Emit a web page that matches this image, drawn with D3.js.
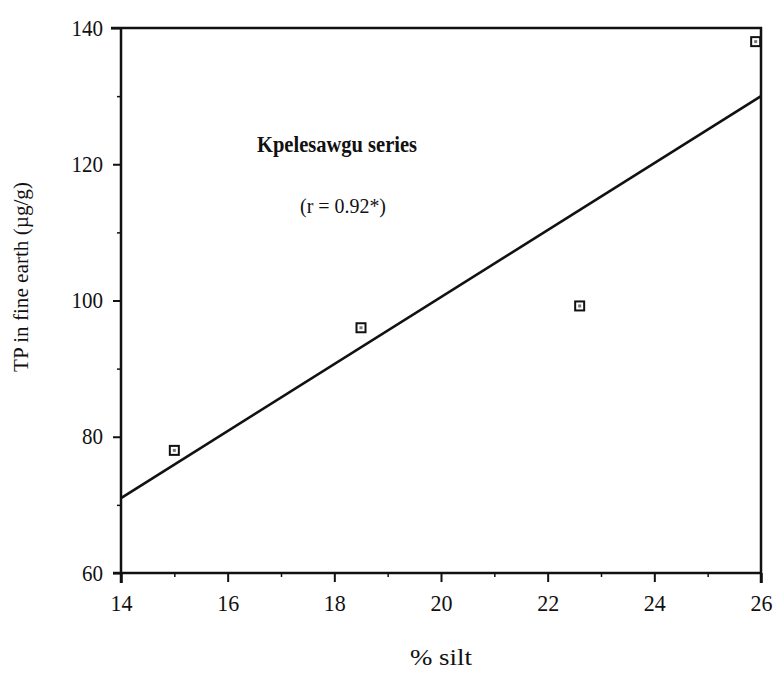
<!DOCTYPE html>
<html>
<head>
<meta charset="utf-8">
<script src="https://cdn.jsdelivr.net/npm/d3@7"></script>
<style>
  html, body { margin: 0; padding: 0; background: #fff; }
  svg { display: block; }
  text { font-family: "Liberation Serif", "Times New Roman", serif; fill: #111; }
</style>
</head>
<body>
<svg id="chart" width="779" height="675"></svg>
<script>
// ---- data ----
const siltPct = [15, 18.5, 22.6, 25.9];
const tpValues = [78, 96, 99.2, 138];
const fitX = [14, 26];
const fitY = [71, 130];
const xTicks = [14, 16, 18, 20, 22, 24, 26];
const xMinorTicks = [15, 17, 19, 21, 23, 25];
const yTicks = [60, 80, 100, 120, 140];
const yMinorTicks = [70, 90, 110, 130];
const seriesTitle = "Kpelesawgu series";
const corrLabel = "(r = 0.92*)";
const xTitle = "% silt";
const yTitle = "TP in fine earth (µg/g)";

// ---- layout ----
const svg = d3.select("#chart");
const L = 121, R = 761, T = 28, B = 573;
const x = d3.scaleLinear().domain([14, 26]).range([L, R]);
const y = d3.scaleLinear().domain([60, 140]).range([B, T]);

const ink = "#111";
const fmt = d3.format("d");

// Y axis major ticks
const yAxis = svg.append("g").attr("transform", `translate(${L},0)`)
  .call(d3.axisLeft(y).tickValues(yTicks).tickSize(8).tickSizeOuter(0).tickPadding(10).tickFormat(fmt));
yAxis.select(".domain").remove();
yAxis.selectAll("line").attr("stroke", ink).attr("stroke-width", 2);
yAxis.selectAll("text").attr("font-size", 24).attr("fill", ink)
  .attr("textLength", d => fmt(d).length * 10.5).attr("lengthAdjust", "spacingAndGlyphs").attr("dy", "0.3em");
yAxis.selectAll(".tick").filter(d => d === 140).select("line").attr("x2", -10);

// Y axis minor ticks
const yMinor = svg.append("g").attr("transform", `translate(${L},0)`)
  .call(d3.axisLeft(y).tickValues(yMinorTicks).tickSize(4).tickFormat(""));
yMinor.select(".domain").remove();
yMinor.selectAll("line").attr("stroke", ink).attr("stroke-width", 1.5);

// X axis major ticks
const xAxis = svg.append("g").attr("transform", `translate(0,${B})`)
  .call(d3.axisBottom(x).tickValues(xTicks).tickSize(9).tickSizeOuter(0).tickPadding(12).tickFormat(fmt));
xAxis.select(".domain").remove();
xAxis.selectAll("line").attr("stroke", ink).attr("stroke-width", 2);
xAxis.selectAll("text").attr("font-size", 24).attr("fill", ink)
  .attr("textLength", d => fmt(d).length * 11).attr("lengthAdjust", "spacingAndGlyphs");
xAxis.selectAll(".tick").filter(d => d === 14 || d === 26).select("line").attr("y2", 10).attr("stroke-width", 2.5);

// X axis minor ticks
const xMinor = svg.append("g").attr("transform", `translate(0,${B})`)
  .call(d3.axisBottom(x).tickValues(xMinorTicks).tickSize(4).tickFormat(""));
xMinor.select(".domain").remove();
xMinor.selectAll("line").attr("stroke", ink).attr("stroke-width", 1.5);

// Frame
const frame = svg.append("g").attr("stroke", ink).attr("stroke-width", 2.5).attr("fill", "none");
frame.append("line").attr("x1", L).attr("x2", L).attr("y1", T - 1).attr("y2", B + 10);
frame.append("line").attr("x1", L - 8).attr("x2", R + 1).attr("y1", B).attr("y2", B);
frame.append("line").attr("x1", L - 10).attr("x2", R + 1).attr("y1", T).attr("y2", T);
frame.append("line").attr("x1", R).attr("x2", R).attr("y1", T - 1).attr("y2", B + 10);

// Regression line
const lineData = fitX.map((v, i) => [v, fitY[i]]);
svg.append("path")
  .datum(lineData)
  .attr("d", d3.line().x(d => x(d[0])).y(d => y(d[1])))
  .attr("stroke", ink).attr("stroke-width", 2.6).attr("fill", "none");

// Points
const pts = siltPct.map((v, i) => [v, tpValues[i]]);
const pg = svg.append("g");
pg.selectAll("rect.m").data(pts).join("rect").attr("class", "m")
  .attr("x", d => x(d[0]) - 4.5).attr("y", d => y(d[1]) - 4.5)
  .attr("width", 9).attr("height", 9)
  .attr("fill", "#fff").attr("stroke", ink).attr("stroke-width", 2);
pg.selectAll("rect.c").data(pts).join("rect").attr("class", "c")
  .attr("x", d => x(d[0]) - 1.5).attr("y", d => y(d[1]) - 1.5)
  .attr("width", 3).attr("height", 3)
  .attr("fill", "#777");

// Annotations
svg.append("text").attr("x", 337).attr("y", 152).attr("text-anchor", "middle")
  .attr("font-size", 24).attr("font-weight", "bold")
  .attr("textLength", 160).attr("lengthAdjust", "spacingAndGlyphs")
  .text(seriesTitle);
svg.append("text").attr("x", 343).attr("y", 213).attr("text-anchor", "middle")
  .attr("font-size", 22)
  .attr("textLength", 86).attr("lengthAdjust", "spacingAndGlyphs")
  .text(corrLabel);

// Axis titles
svg.append("text").attr("x", 441).attr("y", 665).attr("text-anchor", "middle")
  .attr("font-size", 24)
  .attr("textLength", 62).attr("lengthAdjust", "spacingAndGlyphs")
  .text(xTitle);
svg.append("text").attr("transform", "translate(28,277) rotate(-90)")
  .attr("text-anchor", "middle").attr("font-size", 22)
  .attr("textLength", 190).attr("lengthAdjust", "spacingAndGlyphs")
  .text(yTitle);
</script>
</body>
</html>
